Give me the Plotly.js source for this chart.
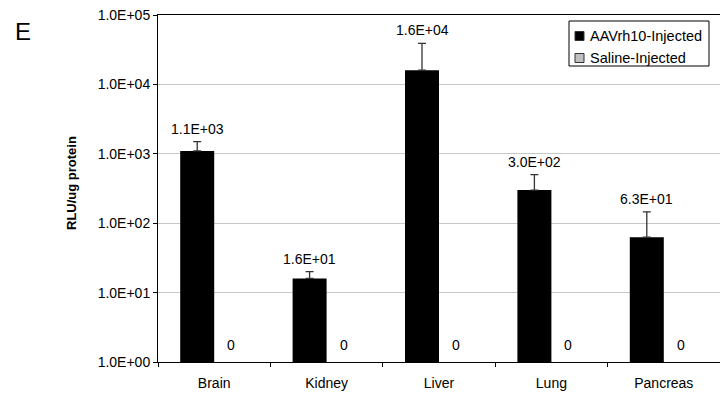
<!DOCTYPE html>
<html>
<head>
<meta charset="utf-8">
<script src="https://cdn.plot.ly/plotly-3.0.1.min.js"></script>
<style>html,body{margin:0;padding:0;background:#fff;}#chart{width:720px;height:400px;}</style>
</head>
<body>
<div id="chart"></div>
<script>
var categories = ["Brain", "Kidney", "Liver", "Lung", "Pancreas"];
var seriesNames = ["AAVrh10-Injected", "Saline-Injected"];
var aavValues = [1100, 16, 16000, 300, 63];
var aavErrors = [400, 4, 23000, 200, 83];
var salineValues = [0, 0, 0, 0, 0];
var tickValues = [1, 10, 100, 1000, 10000, 100000];
var tickLabels = ["1.0E+00", "1.0E+01", "1.0E+02", "1.0E+03", "1.0E+04", "1.0E+05"];

function sci(v) {
  var e = Math.floor(Math.log10(v));
  var m = v / Math.pow(10, e);
  var ms = m.toFixed(1);
  if (ms === "10.0") { ms = "1.0"; e += 1; }
  var es = (e < 0 ? "-" : "+") + (Math.abs(e) < 10 ? "0" : "") + Math.abs(e);
  return ms + "E" + es;
}

var font = "Liberation Sans, Arial, sans-serif";
var colors = ["#000000", "#c0c0c0"];
var fs = 14;

var traces = [
  {
    type: "bar", name: seriesNames[0], x: categories, y: aavValues,
    marker: {color: colors[0]},
    error_y: {type: "data", symmetric: false, array: aavErrors, arrayminus: aavValues.map(function(){return 0;}),
              color: "#333333", thickness: 1.3, width: 4}
  },
  {
    type: "bar", name: seriesNames[1], x: categories, y: salineValues,
    marker: {color: colors[1], line: {color: "#333333", width: 1}}
  }
];

// pixel -> paper helpers (plot area: x 158..720, y 15..362)
function px(x) { return (x - 158) / 562; }
function py(y) { return (362 - y) / 347; }

var annotations = [];
categories.forEach(function(c, i) {
  annotations.push({
    x: c, y: Math.log10(aavValues[i] + aavErrors[i]), xref: "x", yref: "y",
    text: sci(aavValues[i]), showarrow: false, xshift: -17, yshift: 13,
    font: {family: font, size: fs, color: "#000000"}
  });
  annotations.push({
    x: c, y: 0, xref: "x", yref: "y",
    text: String(salineValues[i]), showarrow: false, xshift: 17, yshift: 17,
    font: {family: font, size: fs, color: "#000000"}
  });
});
annotations.push({
  x: px(71), y: py(183), xref: "paper", yref: "paper", text: "<b>RLU/ug protein</b>",
  textangle: -90, showarrow: false, xanchor: "center", yanchor: "middle",
  font: {family: font, size: 13, color: "#000000"}
});
annotations.push({
  x: px(23), y: py(31), xref: "paper", yref: "paper", text: "E", showarrow: false,
  xanchor: "center", yanchor: "middle", font: {family: font, size: 24, color: "#000000"}
});

// manual legend
var shapes = [{
  type: "rect", xref: "paper", yref: "paper", x0: px(569), x1: px(709), y0: py(66), y1: py(21),
  line: {color: "#000000", width: 1}, fillcolor: "#ffffff", layer: "above"
}];
var rowY = [36, 58];
seriesNames.forEach(function(n, i) {
  shapes.push({
    type: "rect", xref: "paper", yref: "paper", x0: px(575), x1: px(584),
    y0: py(rowY[i] + 4.5), y1: py(rowY[i] - 4.5),
    line: {color: "#333333", width: 1}, fillcolor: colors[i], layer: "above"
  });
  annotations.push({
    x: px(588), y: py(rowY[i]), xref: "paper", yref: "paper", text: n, showarrow: false,
    xanchor: "left", yanchor: "middle", font: {family: font, size: 14.5, color: "#000000"}
  });
});

var layout = {
  width: 720, height: 400,
  margin: {l: 158, r: 0, t: 15, b: 38},
  paper_bgcolor: "#fff", plot_bgcolor: "#fff",
  barmode: "group", bargap: 0.395, bargroupgap: 0,
  font: {family: font, size: fs, color: "#000"},
  showlegend: false,
  xaxis: {type: "category", showline: true, linecolor: "#000", linewidth: 1, mirror: true,
          ticks: "outside", tickson: "boundaries", ticklen: 4, tickcolor: "#000",
          ticklabelstandoff: 8,
          showgrid: false, tickfont: {family: font, size: fs}},
  yaxis: {type: "log", range: [0, 5], tickvals: tickValues, ticktext: tickLabels,
          showline: true, linecolor: "#000", linewidth: 1,
          ticks: "outside", ticklen: 4, tickcolor: "#000",
          showgrid: true, gridcolor: "#c8c8c8", gridwidth: 1,
          tickfont: {family: font, size: 14}, zeroline: false},
  annotations: annotations,
  shapes: shapes
};

Plotly.newPlot("chart", traces, layout, {staticPlot: true});
</script>
</body>
</html>
